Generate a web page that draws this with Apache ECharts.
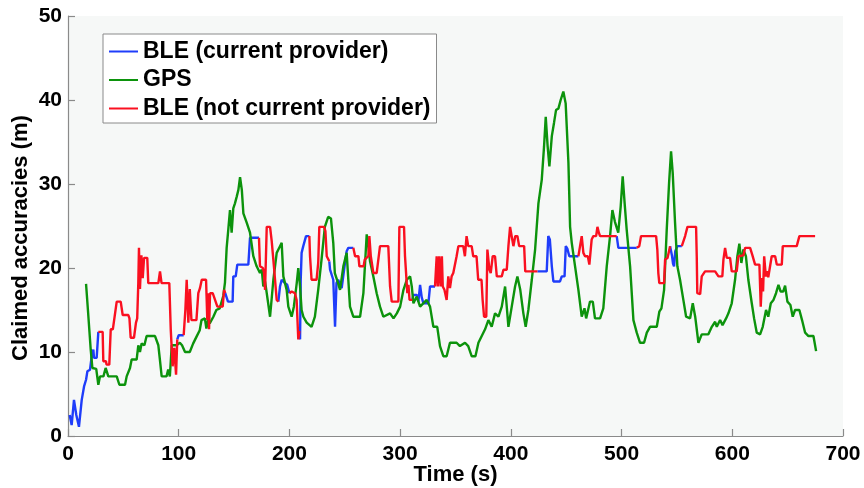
<!DOCTYPE html>
<html>
<head>
<meta charset="utf-8">
<script src="https://cdn.jsdelivr.net/npm/echarts@6/dist/echarts.min.js"></script>
<style>
  html, body { margin: 0; padding: 0; background: #ffffff; }
  #chart { width: 864px; height: 488px; }
</style>
</head>
<body>
<div id="chart"></div>
<script>
// Axis ticks
const timeTicks = [0, 100, 200, 300, 400, 500, 600, 700];
const accuracyTicks = [0, 10, 20, 30, 40, 50];

// BLE accuracy while BLE is the current provider: [time s, accuracy m], one array per stretch
const bleCurrent1 = [[1.5,2.5],[3.3,1.3],[5.4,4.3],[7.5,2.5],[9.9,1.1],[12.4,4.3],[14.5,5.9],[16.3,6.7],[17.5,7.7],[19.9,7.9],[21.4,9.5],[22.9,10.3],[23.5,9.3],[25.9,9.3],[27.4,12.4]];
const bleCurrent2 = [[98.7,11.5],[100,12],[104.5,12]];
const bleCurrent3 = [[142,17],[143.3,17],[144.5,16],[148.7,16],[149.3,19],[151.5,19],[152.9,20.4],[162.9,20.4],[164.4,23.6],[172.5,23.6]];
const bleCurrent4 = [[190,16],[191.5,17.8],[193,18.6],[196,18.2],[198,18],[200,17]];
const bleCurrent5 = [[209,12.5],[209.6,11.5],[210.2,18.6],[211,21.8],[212.5,22.6],[215,23.8],[218,23.8]];
const bleCurrent6 = [[236,20.8],[236.7,19.8],[238.5,19.8],[239.6,18.6],[241.2,13],[242.5,18.2],[244,18.6],[247.2,17.6],[249,17.8],[250.2,20.6],[251.7,22],[253.2,22.4],[257.7,22.4]];
const bleCurrent7 = [[311,16.2],[312,16.8],[315,16.8],[316.5,16],[318,18],[319.5,16.5],[321,15.8],[325.5,15.8],[327,17.8],[331.5,17.8]];
const bleCurrent8 = [[424,19.6],[432.4,19.6],[433.8,23.8],[435.2,23.4],[437,20.2],[438.4,18.4],[444.4,18.4],[446,19],[448.5,19],[449.6,22.6],[451,22.3],[452.8,21.4],[461,21.4]];
const bleCurrent9 = [[495.6,23.8],[497.1,22.4],[513.7,22.4]];
const bleCurrent10 = [[543.8,22.6],[545.5,21.5],[546.5,20.5],[547.4,20.2],[548.5,22],[550.4,22.6],[554.4,22.6]];

// GPS accuracy
const gps = [[16.3,18.1],[18,15],[20.5,10.3],[22,8.1],[25.5,8],[27.4,6.1],[28.9,7.1],[32,7.1],[34,8.1],[36.4,7.1],[44,7.1],[46.4,6.1],[51.5,6.1],[53,7.1],[56,8.1],[57.5,9.1],[62,9.1],[63.5,10.8],[65,10],[66.5,11],[69,10.8],[71,11.9],[78.6,11.9],[81.6,10.8],[83,9.1],[84.6,7.1],[89,7.1],[90.5,7.9],[92,7.1],[93.7,10.8],[98,10.8],[101,11.1],[103,10.8],[105.7,10],[110,10],[113,11],[116,11.8],[119,12.6],[120.6,13.8],[123.6,14],[125,12.8],[126.5,13.8],[128,13.4],[131.3,14.2],[134,15],[137,15.2],[140.3,16.7],[141.8,18.3],[143.3,22.4],[144.8,24.6],[146.3,26.9],[147.8,24.2],[149.3,27.1],[150.8,27.7],[152.4,28.5],[153.9,29.3],[155.4,30.8],[157,29.3],[158.4,26.5],[161.4,25.4],[164.4,24.2],[167.4,21.4],[170.4,20.2],[173.4,19.4],[175,19.8],[176.4,17.8],[178,18.4],[179.5,17],[182.5,14.2],[184,16.4],[185.5,18.6],[188.5,21.8],[191.5,22.6],[193,23],[194.5,19],[197.5,17.4],[199,15.4],[202,14.2],[204,15.4],[206.6,18.2],[208,20],[209.6,17.8],[211,15],[212.6,14.2],[215.6,13.5],[220,13],[223,14.2],[226,17.4],[229,21],[232,24.9],[235,26.1],[237.5,25.9],[239.6,23],[241,19.4],[243,18.6],[245.7,17.4],[248.7,20.2],[251.7,21.8],[253,19],[254.7,15.4],[257.7,14.2],[263.8,14.2],[266.8,17],[269.8,24],[271.3,22.6],[272.8,20.8],[275.8,19],[278.8,17],[281.8,15.4],[284.8,14.2],[290.9,14.6],[294,14],[297,14.6],[300,15.4],[303,17.4],[306,18.6],[309,19],[310.5,17.8],[312,15.8],[315,16.6],[318,15.4],[324,16.2],[327,15.4],[330,13],[333.5,13],[336,10.7],[339,9.5],[342,9.5],[345,11.1],[351,11.1],[354,10.7],[358.6,11.1],[361.5,10.7],[364.6,9.5],[368,9.5],[370.7,11.1],[373.7,11.9],[376.7,12.7],[379.7,13.8],[382.7,13],[385.7,14.6],[388.8,14.2],[391.8,15.4],[394.8,17.8],[397.8,13],[400.8,15.4],[403.8,17.8],[405.9,19],[408.5,17.4],[411.3,14.6],[413.4,13],[415.8,15],[418.9,18.6],[421.9,22.2],[424.9,27.7],[427.9,30.5],[430,34.5],[431.5,38],[433.2,34.5],[434.8,32.1],[437,35.7],[439,37.3],[440.8,38.8],[443,39],[445,40],[447.4,41],[449.5,39.6],[452,32.5],[453.5,24.9],[455,23],[458,20.2],[461,17.4],[464,14.2],[466.5,15.2],[468,14],[471.5,16],[474,16],[476,14],[480.6,14],[483.5,15.2],[486.6,20.2],[489.6,23.8],[491.7,26.9],[494,25.5],[497,24.2],[499.2,27.3],[501,30.9],[503,27.3],[504.6,24.6],[507.7,20.2],[510.7,13.8],[513.7,12.3],[516.7,11.1],[520.3,11.1],[522.8,12.3],[525.7,13],[531.8,13],[534.1,14.8],[536,15.2],[538.4,17.4],[540.8,24.6],[542.9,30.1],[544.7,33.9],[546.2,31.3],[548.3,25.4],[550.4,20.2],[552.8,18.6],[555.8,16.2],[558.3,14.2],[561.9,14],[564.3,15.8],[566.5,14.2],[569.4,11.1],[572.4,12.1],[578.4,12.1],[581.5,13],[584.5,13.6],[586,13],[589,13.8],[591.2,13.2],[594.4,14],[596.5,14.6],[599.5,15.8],[602.5,18.6],[604.6,21.4],[606.4,22.9],[608.2,20.6],[610,22.2],[612.3,21.4],[614.5,18.6],[617.6,15.8],[619.7,14],[622.1,12.3],[625.1,12.1],[627.5,13],[630.5,15],[632.5,14.2],[634.8,15.8],[637.2,16.2],[639.5,17],[641.7,18],[643.7,17.2],[646,17.2],[647.7,17.9],[649.8,16],[652.5,15.6],[654.6,14.2],[656.7,15],[660.6,15],[663,13.8],[665.8,12.3],[668.8,11.9],[673.3,11.9],[675.7,10.1]];

// BLE accuracy while another provider is current
const bleOther1 = [[27.4,12.4],[31.3,12.4],[31.9,8.9],[34.3,8.9],[34.8,8.5],[37.3,8.5],[38.6,12.7],[40.5,12.7],[41.6,12.9],[44,16],[47.6,16],[49.4,14.4],[54.5,14.4],[55.5,14],[56.6,11.7],[59.6,11.7],[61.4,13.5],[62.5,14],[63.5,18.2],[64.1,22.4],[65,17.5],[66.3,21.5],[67.5,18.8],[68.7,21.2],[71.6,21.2],[72.5,18.2],[81.6,18.2],[83.1,19.6],[84.5,18.2],[91.5,18.2],[92.8,12.7],[94.5,8.3],[96,10.5],[97.6,7.3],[98.7,11.5]];
const bleOther2 = [[104.5,12],[106,15],[107.2,18.6],[108.7,13.5],[110,17.5],[111.5,13.8],[116,13.8],[117.7,17],[119.2,17.6],[120.8,18.6],[124.7,18.6],[125.8,13.8],[126.6,17],[127.4,12.7],[128.3,17],[130.7,17],[131.8,16.6],[134.9,15.4],[139.7,15.4],[141,17.4],[142,17]];
const bleOther3 = [[172.5,23.6],[173.4,20.2],[176,20],[177,19.5],[178,17.4],[179.5,24.9],[182.5,24.9],[184,23.2],[186,20.2],[188.5,16.2],[190,16]];
const bleOther4 = [[200,17],[202,17.2],[205,17],[206.5,16.2],[208,11.5],[209,12.5]];
const bleOther5 = [[218,23.8],[218.6,21.4],[220,18.6],[224.5,18.6],[226,20.6],[227,24.9],[231.3,24.9],[232.5,24.4],[233.7,21.4],[236,20.8]];
const bleOther6 = [[257.7,22.4],[259.3,21.4],[262.3,21.4],[263.2,20.2],[267,20.2],[268,21],[271.3,21.4],[272.2,23.8],[273.5,21.4],[275.8,19.4],[278.8,19.4],[281.8,22.6],[289.3,22.6],[290.9,17.8],[292.4,16],[298.4,16],[299.3,24.9],[303.5,24.9],[304.4,21.4],[306.5,17],[307.5,18],[308.5,16.2],[311,16.2]];
const bleOther7 = [[331.5,17.8],[333,21.4],[334,17.8],[335.3,21.4],[336.5,17.8],[337.7,21.4],[338.5,17.8],[340,17.4],[342,16.2],[343.5,19],[345,17.6],[346.5,19],[348,19.4],[351,21.4],[352.6,22.6],[357,22.6],[358.5,21.4],[360,23.8],[361.5,22.6],[364.6,22.6],[366,21.4],[369,21.4],[370.5,18.6],[373.5,18.6],[374.5,16.2],[375.8,14.2],[377.8,14.2],[378.8,22.2],[380.6,19.8],[381.8,19.4],[383.6,21.4],[385.7,21.4],[387.3,19],[391.8,19],[393.3,19.8],[396.3,19.8],[397.8,22.6],[399.3,24.9],[401,24.9],[402.3,22.6],[404,23.8],[405.9,23.8],[407.5,22.6],[412,22.6],[413,19.6],[424,19.6]];
const bleOther8 = [[461,21.4],[462.5,22.6],[464,23.8],[465.5,21.8],[467,21.4],[469.5,21.4],[470.9,20.4],[473,23.4],[474.5,23.8],[477,23.8],[478.2,24.9],[479.5,24.2],[480.6,23.8],[495.6,23.8]];
const bleOther9 = [[513.7,22.4],[516,22.6],[517.6,23.8],[531.2,23.8],[532.3,22.2],[533.2,19.4],[534.1,18.2],[538.4,18.2],[539.3,21],[541.5,21.2],[543.8,22.6]];
const bleOther10 = [[554.4,22.6],[557.4,23.8],[559.5,24.9],[567.3,24.9],[567.9,21.4],[568.4,17],[571,16.9],[572.4,19],[575.4,19.6],[584.5,19.6],[587.5,19],[591,19],[592,21],[593.5,22.4],[595,21.2],[598,21.2],[599.5,19.6],[604,19.6],[605.5,21.4],[607,21.6],[610,21.5],[611.6,22.4],[616.1,22.4],[618,21.6],[620.6,20.4],[624.5,20.4],[625.7,15.4],[626.8,18.8],[627.8,17.2],[628.8,21.4],[630.3,19],[631.3,19.6],[632.5,18.9],[634.1,18.9],[635.6,21.4],[638.7,21.4],[640.2,20.4],[644.7,20.4],[645.6,22.6],[658.2,22.6],[660.6,23.8],[674.8,23.8]];

const bleCurrentParts = [bleCurrent1, bleCurrent2, bleCurrent3, bleCurrent4, bleCurrent5, bleCurrent6, bleCurrent7, bleCurrent8, bleCurrent9, bleCurrent10];
const bleOtherParts = [bleOther1, bleOther2, bleOther3, bleOther4, bleOther5, bleOther6, bleOther7, bleOther8, bleOther9, bleOther10];

// Join stretches into one series, with an empty point between them so the line breaks
function joinParts(parts) {
  const out = [];
  parts.forEach(function (p, i) {
    if (i > 0) out.push([p[0][0], null]);
    p.forEach(function (pt) { out.push(pt); });
  });
  return out;
}

const FONT = '"Liberation Sans", Arial, Helvetica, sans-serif';
const AXIS_GRAY = '#8a8a8a';

const chart = echarts.init(document.getElementById('chart'), null, { renderer: 'canvas' });

function lineSeries(name, color, data) {
  return {
    name: name,
    type: 'line',
    data: data,
    showSymbol: false,
    symbol: 'none',
    connectNulls: false,
    animation: false,
    lineStyle: { color: color, width: 2.4 },
    itemStyle: { color: color },
    emphasis: { disabled: true }
  };
}

chart.setOption({
  animation: false,
  backgroundColor: '#ffffff',
  grid: {
    left: 68, top: 16, right: 21, bottom: 52,
    show: true, backgroundColor: '#f6f8f7', borderWidth: 0,
    containLabel: false,
    outerBoundsMode: 'none'
  },
  legend: {
    orient: 'vertical',
    left: 103, top: 34,
    padding: [6, 6, 3, 5],
    itemWidth: 29, itemHeight: 12, itemGap: 5.5,
    backgroundColor: '#ffffff',
    borderColor: AXIS_GRAY, borderWidth: 1, borderRadius: 0,
    textStyle: { fontFamily: FONT, fontWeight: 'bold', fontSize: 23, color: '#000', lineHeight: 23, padding: [0, 0, 0, 0] },
    itemStyle: { opacity: 0 },
    selectedMode: false,
    data: ['BLE (current provider)', 'GPS', 'BLE (not current provider)']
  },
  xAxis: {
    type: 'value',
    min: timeTicks[0], max: timeTicks[timeTicks.length - 1], interval: timeTicks[1] - timeTicks[0],
    name: 'Time (s)', nameLocation: 'middle', nameGap: 28, nameMoveOverlap: false,
    nameTextStyle: { fontFamily: FONT, fontWeight: 'bold', fontSize: 22, color: '#000' },
    axisLine: { show: true, onZero: false, lineStyle: { color: AXIS_GRAY, width: 1.2 } },
    axisTick: { show: true, inside: true, length: 7, lineStyle: { color: AXIS_GRAY, width: 1.2 } },
    axisLabel: { margin: 8, fontFamily: FONT, fontWeight: 'bold', fontSize: 21, color: '#000' },
    splitLine: { show: false }
  },
  yAxis: {
    type: 'value',
    min: accuracyTicks[0], max: accuracyTicks[accuracyTicks.length - 1], interval: accuracyTicks[1] - accuracyTicks[0],
    name: 'Claimed accuracies (m)', nameLocation: 'middle', nameGap: 36, nameMoveOverlap: false,
    nameTextStyle: { fontFamily: FONT, fontWeight: 'bold', fontSize: 22, color: '#000', padding: [0, 24, 0, 0] },
    axisLine: { show: true, onZero: false, lineStyle: { color: AXIS_GRAY, width: 1.2 } },
    axisTick: { show: true, inside: true, length: 7, lineStyle: { color: AXIS_GRAY, width: 1.2 } },
    axisLabel: { margin: 6, fontFamily: FONT, fontWeight: 'bold', fontSize: 21, color: '#000' },
    splitLine: { show: false }
  },
  series: [
    lineSeries('BLE (current provider)', '#1f3dfa', joinParts(bleCurrentParts)),
    lineSeries('GPS', '#0c930c', gps),
    lineSeries('BLE (not current provider)', '#fa1020', joinParts(bleOtherParts))
  ]
});
</script>
</body>
</html>
